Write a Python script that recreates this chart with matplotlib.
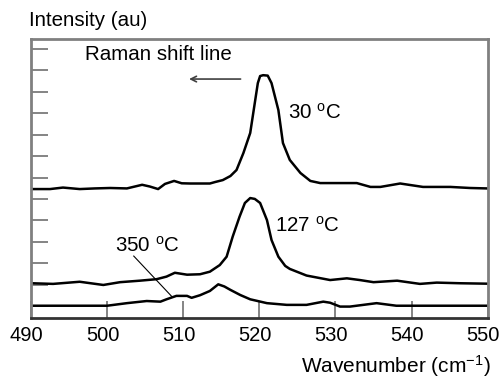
import numpy as np
import matplotlib
matplotlib.use('Agg')
import matplotlib.pyplot as plt
from matplotlib.transforms import ScaledTranslation

plt.rcParams['font.family'] = ['Liberation Sans', 'DejaVu Sans']
plt.rcParams['mathtext.fontset'] = 'custom'
plt.rcParams['mathtext.rm'] = 'Liberation Sans'
plt.rcParams['mathtext.it'] = 'Liberation Sans:italic'

# spectra (wavenumber in cm^-1, intensity in tick units)
wn_30 = [490.0, 492.5, 494.2, 496.4, 498.4, 500.4, 502.6, 504.6, 505.6, 506.7,
         507.6, 508.8, 509.8, 510.9, 513.5, 514.2, 515.2, 516.2, 517.0, 517.9,
         518.8, 519.4, 519.8, 520.1, 520.5, 521.1, 521.6, 522.1, 522.5, 523.1,
         524.0, 525.4, 526.7, 528.0, 532.8, 534.6, 535.9, 538.5, 541.5, 545.1,
         547.7, 549.9]
int_30 = [5.46, 5.46, 5.53, 5.46, 5.49, 5.51, 5.49, 5.66, 5.58, 5.46,
          5.70, 5.84, 5.73, 5.72, 5.72, 5.79, 5.88, 6.07, 6.35, 7.14,
          8.08, 9.48, 10.41, 10.74, 10.78, 10.76, 10.41, 9.71, 9.15, 7.61,
          6.82, 6.21, 5.84, 5.74, 5.74, 5.56, 5.56, 5.72, 5.56, 5.56,
          5.51, 5.49]

wn_127 = [490.1, 492.9, 496.4, 499.5, 501.7, 504.3, 506.5, 507.8, 508.9, 510.5,
          512.2, 513.5, 514.8, 515.7, 516.5, 517.4, 518.1, 518.8, 519.4, 520.1,
          521.0, 521.6, 522.5, 523.4, 524.0, 526.2, 529.3, 531.5, 533.2, 535.0,
          538.1, 541.1, 543.3, 546.4, 549.9]
int_127 = [1.06, 1.03, 1.13, 0.98, 1.11, 1.18, 1.25, 1.37, 1.55, 1.46,
           1.48, 1.60, 1.91, 2.30, 3.24, 4.17, 4.81, 5.04, 5.00, 4.81,
           4.01, 3.08, 2.30, 1.87, 1.73, 1.42, 1.21, 1.29, 1.21, 1.11,
           1.18, 1.03, 1.09, 1.06, 1.04]

wn_350 = [490.1, 500.0, 502.6, 505.2, 507.0, 507.8, 509.1, 510.5, 511.1, 512.2,
          513.5, 514.6, 515.4, 516.2, 517.5, 518.8, 521.0, 523.6, 526.2, 528.4,
          529.3, 530.6, 531.9, 535.4, 538.0, 549.9]
int_350 = [0.01, 0.01, 0.13, 0.23, 0.20, 0.31, 0.47, 0.47, 0.38, 0.50,
           0.70, 1.01, 0.91, 0.75, 0.51, 0.31, 0.13, 0.05, 0.05, 0.20,
           0.15, -0.03, -0.03, 0.13, 0.01, 0.01]

xticks = [490, 500, 510, 520, 530, 540, 550]
yticks = np.arange(0, 13)

fig = plt.figure(figsize=(5, 3.81), dpi=100)
ax = fig.add_axes([0.062, 0.1661, 0.9134, 0.7315])

for wn, inten in [(wn_30, int_30), (wn_127, int_127), (wn_350, int_350)]:
    ax.plot(wn, inten, color='black', lw=1.8, solid_joinstyle='round')

ax.set_xlim(490, 550)
ax.set_ylim(-0.55, 12.47)
ax.set_xticks(xticks)
ax.set_yticks(yticks)
ax.set_yticklabels([])
ax.tick_params(axis='both', direction='in', length=12, width=1.2,
               colors='#707070', labelcolor='black', labelsize=14.5)
ax.tick_params(axis='x', pad=6)
# tick labels in the reference sit a few pixels left of their ticks
shift = ScaledTranslation(-4.5 / 100, 0, fig.dpi_scale_trans)
for lab in ax.get_xticklabels():
    lab.set_transform(lab.get_transform() + shift)
for side in ['top', 'right', 'left']:
    ax.spines[side].set_color('#808080')
    ax.spines[side].set_linewidth(2)
ax.spines['bottom'].set_color('#333333')
ax.spines['bottom'].set_linewidth(2)

fig.text(0.058, 0.947, 'Intensity (au)', fontsize=14.8, va='center', ha='left')
fig.text(0.981, 0.04, r'Wavenumber (cm$^{\mathrm{-1}}$)', fontsize=15,
         va='center', ha='right')

ax.text(506.7, 11.74, 'Raman shift line', fontsize=14.8, ha='center', va='center')
ax.annotate('', xy=(510.4, 10.6), xytext=(517.9, 10.6),
            arrowprops=dict(arrowstyle='->', color='#404040', lw=1.2))

ax.text(523.8, 9.05, r'30 $^{\mathrm{o}}$C', fontsize=14.8, ha='left', va='center')
ax.text(522.1, 3.73, r'127 $^{\mathrm{o}}$C', fontsize=14.8, ha='left', va='center')
ax.text(501.0, 2.80, r'350 $^{\mathrm{o}}$C', fontsize=14.8, ha='left', va='center')
ax.plot([503.5, 508.5], [2.33, 0.44], color='black', lw=0.8)

fig.savefig('out.png', dpi=100)
